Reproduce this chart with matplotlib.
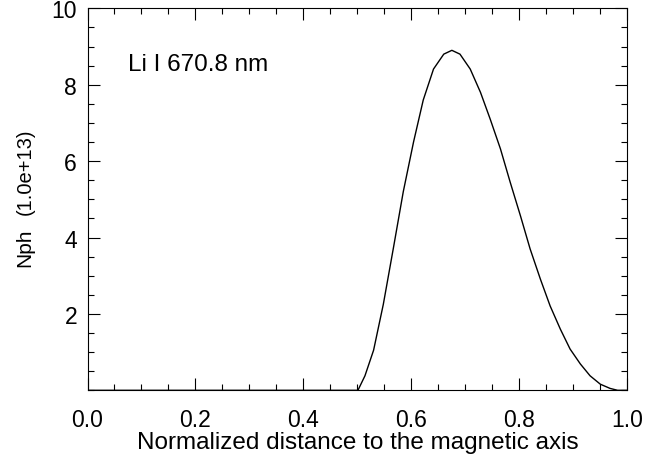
import matplotlib
matplotlib.use("Agg")
import matplotlib.pyplot as plt
from matplotlib.ticker import MultipleLocator

plt.rcParams['font.family'] = ['Liberation Sans', 'DejaVu Sans']

# emission profile (units of 1e13 photons)
r_norm = [0.0, 0.25, 0.501, 0.514, 0.530, 0.548, 0.567, 0.585, 0.604,
          0.622, 0.641, 0.660, 0.675, 0.690, 0.709, 0.728, 0.746, 0.765,
          0.783, 0.802, 0.820, 0.839, 0.857, 0.876, 0.894, 0.913, 0.931,
          0.950, 0.968, 0.982, 1.0]
nph = [0.0, 0.0, 0.0, 0.38, 1.05, 2.25, 3.75, 5.2, 6.5,
       7.6, 8.41, 8.80, 8.90, 8.80, 8.41, 7.80, 7.10, 6.32,
       5.45, 4.57, 3.70, 2.91, 2.21, 1.60, 1.08, 0.69, 0.38,
       0.16, 0.05, 0.0, 0.0]

line_name = "Li I 670.8 nm"
x_label = "Normalized distance to the magnetic axis"

fig = plt.figure(figsize=(6.58, 4.56), dpi=100)
ax = fig.add_axes([87.5 / 658, 1 - 391.3 / 456, (627.3 - 87.5) / 658, (391.3 - 9.3) / 456])

ax.plot(r_norm, nph, color='black', lw=1.0)

ax.set_xlim(0, 1)
ax.set_ylim(0, 10)
ax.xaxis.set_minor_locator(MultipleLocator(0.05))
ax.yaxis.set_minor_locator(MultipleLocator(0.5))
ax.set_yticks([2, 4, 6, 8, 10])
ax.set_xticks([0.0, 0.2, 0.4, 0.6, 0.8, 1.0])
ax.set_xticklabels(['0.0', '0.2', '0.4', '0.6', '0.8', '1.0'])

for s in ax.spines.values():
    s.set_linewidth(0.8)
ax.tick_params(which='both', direction='in', top=True, right=True, width=0.8)
ax.tick_params(which='major', length=8.5)
ax.tick_params(which='minor', length=4.3)
ax.tick_params(axis='x', labelsize=16.5, pad=12.5)
ax.tick_params(axis='y', labelsize=16.5, pad=7.5)

ax.set_xlabel(x_label, fontsize=17.5, labelpad=0)

# y label in two sizes, like the original
fig.text(25 / 658, 1 - 267 / 456, "Nph", rotation=90, fontsize=15,
         ha='center', va='bottom')
fig.text(25 / 658, 1 - 172 / 456, "(1.0e+13)", rotation=90, fontsize=14.5,
         ha='center', va='center')

ax.text(127.7 / 658, 1 - 71 / 456, line_name, transform=fig.transFigure,
        fontsize=17.5, ha='left', va='baseline')

fig.savefig("out.png", dpi=100)
